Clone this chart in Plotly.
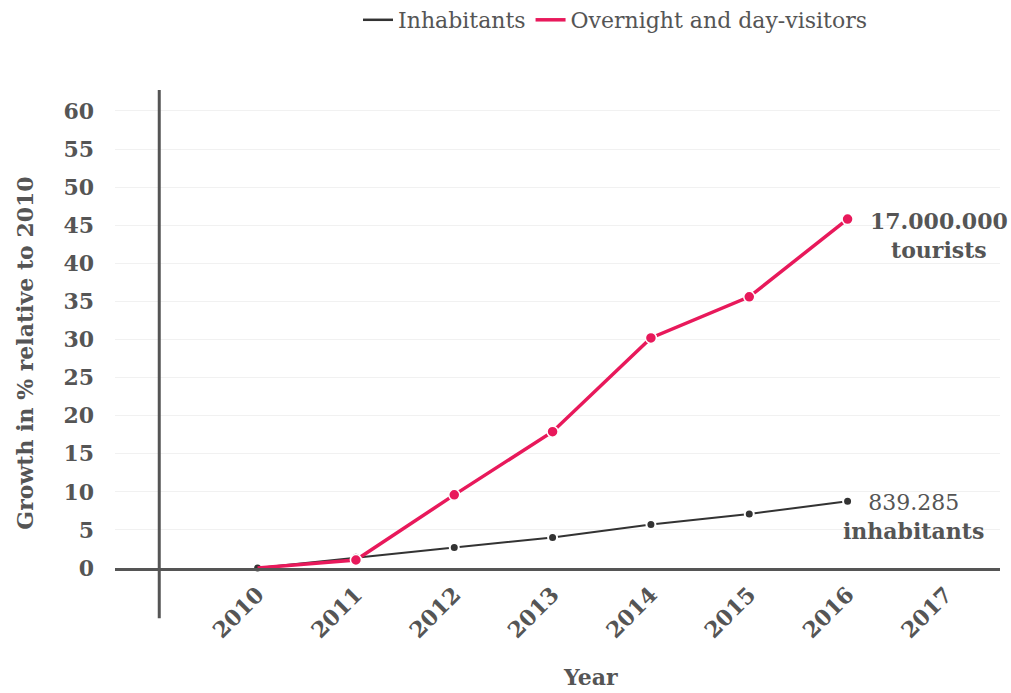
import plotly.graph_objects as go

# Growth relative to 2010, in percent
years = [2010, 2011, 2012, 2013, 2014, 2015, 2016]
inhabitants = [0, 1.4, 2.7, 4.0, 5.7, 7.1, 8.75]
visitors = [0, 1.05, 9.6, 17.9, 30.2, 35.6, 45.8]

year_ticks = [2010, 2011, 2012, 2013, 2014, 2015, 2016, 2017]
growth_ticks = [0, 5, 10, 15, 20, 25, 30, 35, 40, 45, 50, 55, 60]

FONT = "DejaVu Serif"
TEXT = "#555555"
PINK = "#E8195B"
DARK = "#333333"
FS = 22

fig = go.Figure()

fig.add_trace(go.Scatter(
    x=years, y=inhabitants, name="Inhabitants", mode="lines+markers",
    line=dict(color=DARK, width=2),
    marker=dict(size=9, color=DARK, line=dict(color="white", width=2)),
    cliponaxis=False, showlegend=False,
))
# base year point carries no marker on the visitors line
visitor_marker_sizes = [0] + [11] * (len(years) - 1)
fig.add_trace(go.Scatter(
    x=years, y=visitors, name="Overnight and day-visitors", mode="lines+markers",
    line=dict(color=PINK, width=3.5),
    marker=dict(size=visitor_marker_sizes, color=PINK, opacity=1,
                line=dict(color="white", width=1.5)),
    cliponaxis=False, showlegend=False,
))

# legend entries show line only
fig.add_trace(go.Scatter(
    x=[None], y=[None], name="Inhabitants", mode="lines",
    line=dict(color=DARK, width=2.5),
))
fig.add_trace(go.Scatter(
    x=[None], y=[None], name="Overnight and day-visitors", mode="lines",
    line=dict(color=PINK, width=3.5),
))

# end-of-line labels
fig.add_annotation(
    x=years[-1], y=visitors[-1], text="<b>17.000.000<br>tourists</b>",
    showarrow=False, xanchor="left", yanchor="middle", align="center",
    xshift=20, yshift=-16, font=dict(family=FONT, size=FS, color=TEXT),
)
fig.add_annotation(
    x=years[-1], y=inhabitants[-1], text="839.285<br><b>inhabitants</b>",
    showarrow=False, xanchor="left", yanchor="middle", align="center",
    xshift=-7, yshift=-16, font=dict(family=FONT, size=FS, color=TEXT),
)

# axis titles
fig.add_annotation(
    x=0.537, y=-0.228, xref="paper", yref="paper", text="<b>Year</b>",
    showarrow=False, xanchor="center", yanchor="middle",
    font=dict(family=FONT, size=FS, color=TEXT),
)
fig.add_annotation(
    x=-0.102, y=0.45, xref="paper", yref="paper",
    text="<b>Growth in % relative to 2010</b>", textangle=-90,
    showarrow=False, xanchor="center", yanchor="middle",
    font=dict(family=FONT, size=FS, color=TEXT),
)

# vertical axis line, extending below the zero line
fig.add_shape(
    type="line", xref="x", yref="paper", x0=2009, x1=2009, y0=-0.105, y1=1.0,
    line=dict(color=TEXT, width=3),
)

fig.update_layout(
    width=1011, height=693,
    margin=dict(l=115, r=11, t=90, b=125, autoexpand=False),
    paper_bgcolor="white", plot_bgcolor="white",
    font=dict(family=FONT, size=FS, color=TEXT),
    showlegend=True,
    legend=dict(
        orientation="h", x=0.565, xanchor="center",
        yref="container", y=1 - 20 / 693, yanchor="middle",
        font=dict(family=FONT, size=FS, color=TEXT), itemwidth=30,
    ),
    xaxis=dict(
        range=[2008.55, 2017.55], tickmode="array", tickvals=year_ticks,
        ticktext=[f"<b>{y}</b>" for y in year_ticks], tickangle=-45,
        showgrid=False, zeroline=False, showline=True, linecolor=TEXT, linewidth=3,
        ticks="", ticklabelstandoff=2, tickfont=dict(family=FONT, size=FS, color=TEXT),
    ),
    yaxis=dict(
        range=[0, 62.75], tickmode="array", tickvals=growth_ticks,
        ticktext=[f"<b>{v}</b>" for v in growth_ticks],
        showgrid=True, gridcolor="#f1f1f1", gridwidth=1, zeroline=False,
        showline=False, ticks="", ticklabelstandoff=20,
        tickfont=dict(family=FONT, size=FS, color=TEXT),
    ),
)

fig.write_html("out.html")
